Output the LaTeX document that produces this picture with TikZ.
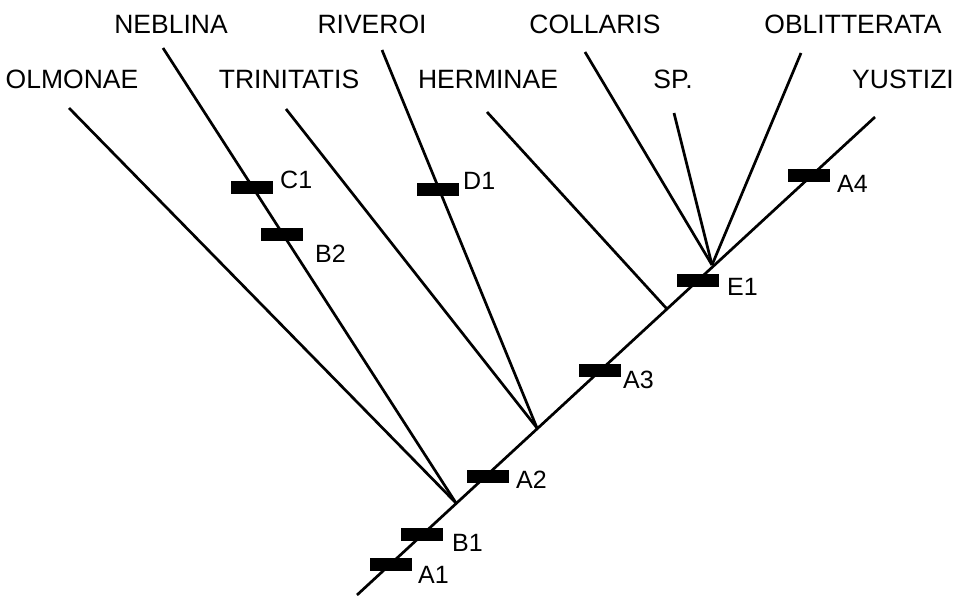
\documentclass[tikz,border=0pt]{standalone}
\usepackage{fontspec}
\setmainfont{Liberation Sans}
\begin{document}
\begin{tikzpicture}[x=1pt,y=-1pt,
  branch/.style={line width=2.7pt,line cap=butt},
  bar/.style={fill=black,inner sep=0pt,minimum width=42pt,minimum height=13pt},
  taxon/.style={font=\fontsize{26.5}{26.5}\selectfont,inner sep=0pt,anchor=base},
  barlab/.style={font=\fontsize{25}{25}\selectfont,inner sep=0pt,anchor=base west}]
\useasboundingbox (0,0) rectangle (955,595);
% junctions
\coordinate (root) at (357,595);
\coordinate (n1) at (456,503);
\coordinate (n2) at (537,428);
\coordinate (n3) at (667,309);
\coordinate (n4) at (712,265);
% tips
\coordinate (tOl) at (69,108);
\coordinate (tNe) at (163,48);
\coordinate (tTr) at (286,109);
\coordinate (tRi) at (382,50);
\coordinate (tHe) at (487,112);
\coordinate (tCo) at (585,52);
\coordinate (tSp) at (674,113);
\coordinate (tOb) at (801,53);
\coordinate (tYu) at (875,117);
% branches
\draw[branch] (root) -- (tYu);
\draw[branch] (n1) -- (tOl);
\draw[branch] (n1) -- (tNe);
\draw[branch] (n2) -- (tTr);
\draw[branch] (n2) -- (tRi);
\draw[branch] (n3) -- (tHe);
\draw[branch] (n4) -- (tCo);
\draw[branch] (n4) -- (tSp);
\draw[branch] (n4) -- (tOb);
% taxon labels
\node[taxon] (lOl) at (72,88) {OLMONAE};
\node[taxon] (lNe) at (171,33) {NEBLINA};
\node[taxon] (lTr) at (289,88) {TRINITATIS};
\node[taxon] (lRi) at (372,33) {RIVEROI};
\node[taxon] (lHe) at (488,88) {HERMINAE};
\node[taxon] (lCo) at (595,33) {COLLARIS};
\node[taxon] (lSp) at (673,88) {SP.};
\node[taxon] (lOb) at (853,33) {OBLITTERATA};
\node[taxon] (lYu) at (903,88) {YUSTIZI};
% character bars
\node[bar] (bA1) at (391,564.5) {};
\node[bar] (bB1) at (421.5,534.5) {};
\node[bar] (bA2) at (487.5,476) {};
\node[bar] (bA3) at (600,370.5) {};
\node[bar] (bE1) at (698,280.5) {};
\node[bar] (bA4) at (808.5,175.5) {};
\node[bar] (bC1) at (251.5,187.5) {};
\node[bar] (bB2) at (282,234.5) {};
\node[bar] (bD1) at (438,189) {};
% bar labels
\node[barlab] (xA1) at (418,583) {A1};
\node[barlab] (xB1) at (452,551) {B1};
\node[barlab] (xA2) at (516,488) {A2};
\node[barlab] (xA3) at (623,388) {A3};
\node[barlab] (xE1) at (727,295) {E1};
\node[barlab] (xA4) at (837,192) {A4};
\node[barlab] (xC1) at (280,188) {C1};
\node[barlab] (xB2) at (315,262) {B2};
\node[barlab] (xD1) at (463,189) {D1};
\end{tikzpicture}
\end{document}
